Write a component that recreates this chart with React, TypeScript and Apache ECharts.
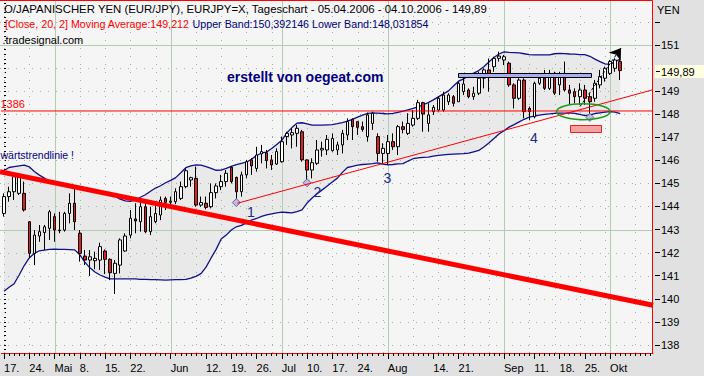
import React, { useEffect, useRef } from 'react';
import * as echarts from 'echarts';

const FONT = '"Liberation Sans", Arial, sans-serif';
const NAVY = '#10108a';

// ---- candle data (EUR/JPY daily, from 17.04.2006) ----
const opens = [
  143.70, 144.43, 144.64, 144.57, 144.57, 143.34, 141.97, 142.72, 142.87, 143.05,
  143.56, 142.98, 142.98, 143.70, 144.14, 142.84, 141.85, 141.68, 141.65, 141.68,
  142.07, 141.71, 141.10, 141.46, 142.07, 142.76, 143.46, 143.34, 143.99, 142.91,
  143.34, 143.63, 144.35, 144.18, 144.21, 144.35, 144.86, 145.15, 145.22, 144.06,
  144.14, 143.99, 144.60, 144.86, 145.08, 145.70, 145.26, 144.64, 145.37, 146.02,
  145.65, 146.28, 146.33, 146.02, 145.84, 145.94, 147.03, 147.10, 147.17, 147.24,
  146.02, 145.58, 145.87, 146.45, 146.45, 146.42, 146.45, 146.67, 147.10, 147.78,
  147.68, 147.46, 147.03, 147.60, 147.03, 146.30, 146.30, 146.81, 146.59, 147.46,
  147.17, 147.53, 147.82, 148.50, 147.60, 148.11, 148.18, 148.18, 148.54, 148.76,
  148.54, 148.98, 149.05, 148.76, 148.91, 149.56, 149.92, 150.06, 150.42, 150.35,
  150.21, 149.27, 148.69, 149.48, 148.25, 147.89, 149.34, 149.56, 149.12, 149.77,
  149.27, 149.77, 149.05, 148.98, 148.76, 149.05, 148.76, 148.69, 149.27, 149.56,
  149.77, 149.99, 150.28,
];
const closes = [
  144.43, 144.64, 145.29, 145.29, 143.85, 141.97, 142.76, 142.91, 143.12, 143.77,
  142.98, 142.95, 143.70, 144.14, 143.34, 141.97, 141.68, 141.82, 141.75, 142.26,
  141.71, 141.13, 141.54, 142.55, 142.72, 143.49, 143.37, 143.99, 142.91, 143.56,
  143.70, 144.28, 144.18, 144.23, 144.64, 144.86, 145.55, 145.25, 144.06, 144.17,
  143.96, 144.60, 144.89, 145.08, 145.44, 145.08, 144.64, 145.37, 145.94, 145.76,
  146.23, 146.38, 145.99, 145.80, 146.38, 146.81, 147.17, 147.20, 147.39, 146.02,
  145.58, 145.90, 146.45, 146.52, 146.91, 146.95, 146.67, 147.17, 147.68, 147.46,
  147.43, 147.34, 147.97, 148.04, 146.30, 146.52, 146.81, 146.59, 147.46, 147.34,
  147.60, 147.82, 148.50, 148.01, 147.97, 148.30, 148.69, 148.83, 148.83, 148.47,
  149.34, 149.31, 148.76, 148.91, 149.56, 149.92, 149.77, 150.42, 150.52, 150.49,
  149.27, 148.69, 149.48, 148.11, 148.11, 149.34, 149.56, 149.12, 149.77, 148.91,
  149.70, 149.05, 148.91, 148.76, 149.05, 148.69, 148.54, 149.34, 149.63, 149.99,
  150.28, 150.35, 149.89,
];
const highs = [
  144.57, 144.86, 145.44, 145.44, 145.08, 143.36, 142.98, 143.20, 143.20, 143.85,
  143.70, 143.77, 143.77, 144.57, 144.93, 142.98, 142.11, 142.11, 142.04, 142.43,
  142.14, 141.75, 141.68, 142.62, 142.84, 143.85, 144.14, 144.35, 144.28, 143.99,
  144.06, 144.43, 144.43, 144.43, 144.79, 145.08, 145.65, 145.29, 145.73, 144.43,
  144.43, 145.00, 145.00, 145.37, 145.58, 145.76, 145.30, 145.51, 146.02, 146.09,
  146.59, 146.67, 146.45, 146.23, 146.52, 147.03, 147.24, 147.39, 147.53, 147.32,
  146.04, 146.09, 146.88, 146.81, 147.10, 147.17, 146.81, 147.32, 147.82, 147.82,
  147.68, 147.68, 148.07, 148.11, 147.17, 146.74, 147.10, 147.17, 147.53, 147.68,
  148.04, 148.18, 148.62, 148.54, 148.47, 148.40, 148.76, 148.98, 148.91, 148.83,
  149.41, 149.70, 149.12, 149.19, 149.84, 149.99, 150.42, 150.49, 150.71, 150.57,
  150.28, 149.34, 149.56, 149.56, 148.33, 149.41, 149.77, 149.92, 149.92, 149.84,
  149.84, 150.28, 149.27, 149.12, 149.34, 149.27, 148.91, 149.48, 149.92, 150.06,
  150.35, 150.42, 150.35,
];
const lows = [
  143.56, 144.21, 144.28, 144.50, 143.78, 141.75, 141.46, 142.47, 142.11, 142.55,
  142.47, 142.84, 142.91, 143.27, 142.98, 141.61, 141.46, 140.99, 141.28, 141.25,
  141.07, 140.81, 140.21, 141.10, 142.04, 142.62, 142.84, 142.91, 142.84, 142.76,
  143.27, 143.41, 143.85, 143.92, 144.10, 144.28, 144.79, 144.86, 143.99, 143.99,
  143.88, 143.92, 144.35, 144.71, 144.86, 145.00, 144.17, 144.43, 145.22, 145.37,
  145.51, 145.87, 145.65, 145.58, 145.80, 145.90, 146.67, 146.52, 146.59, 145.94,
  145.03, 145.22, 145.80, 146.16, 146.23, 146.38, 146.23, 146.30, 146.88, 146.88,
  147.10, 147.24, 146.81, 147.32, 145.94, 145.87, 145.80, 146.45, 146.23, 147.17,
  147.10, 147.46, 147.75, 147.24, 147.24, 147.97, 148.11, 148.11, 148.40, 148.33,
  148.54, 148.83, 148.69, 148.62, 148.83, 149.12, 148.98, 149.84, 150.28, 150.13,
  149.19, 148.25, 148.62, 147.82, 147.75, 147.82, 149.27, 149.05, 149.05, 148.83,
  148.83, 148.98, 148.40, 148.47, 148.40, 148.40, 147.86, 148.54, 149.12, 149.41,
  149.70, 149.84, 149.48,
];

// ---- Bollinger bands (Close, 20, 2) ----
const upperBand = [
  145.56, 145.69, 145.73, 145.76, 145.79, 145.72, 145.52, 145.36, 145.23, 145.07,
  145.02, 144.98, 144.94, 144.89, 144.85, 144.80, 144.76, 144.71, 144.67, 144.63,
  144.57, 144.52, 144.45, 144.32, 144.24, 144.22, 144.29, 144.40, 144.51, 144.66,
  144.80, 144.90, 145.03, 145.13, 145.25, 145.46, 145.68, 145.76, 145.80, 145.79,
  145.73, 145.65, 145.57, 145.58, 145.65, 145.74, 145.81, 145.87, 145.92, 146.05,
  146.21, 146.32, 146.36, 146.51, 146.69, 146.87, 147.19, 147.42, 147.61, 147.63,
  147.58, 147.53, 147.53, 147.53, 147.54, 147.55, 147.59, 147.64, 147.70, 147.78,
  147.87, 147.96, 148.04, 148.06, 148.05, 148.03, 148.01, 148.04, 148.08, 148.13,
  148.19, 148.25, 148.32, 148.41, 148.50, 148.62, 148.75, 148.88, 149.01, 149.22,
  149.43, 149.53, 149.67, 149.78, 149.89, 150.06, 150.26, 150.46, 150.61, 150.70,
  150.68, 150.67, 150.66, 150.62, 150.58, 150.57, 150.57, 150.57, 150.57, 150.62,
  150.64, 150.63, 150.61, 150.60, 150.58, 150.58, 150.51, 150.39, 150.28, 150.18,
  150.16, 150.28, 150.39,
];
const lowerBand = [
  140.33, 140.50, 140.65, 141.03, 141.44, 141.77, 141.97, 142.08, 142.11, 142.14,
  142.15, 142.14, 142.14, 142.13, 142.12, 141.91, 141.59, 141.34, 141.16, 141.03,
  140.94, 140.86, 140.86, 140.86, 140.86, 140.86, 140.86, 140.84, 140.84, 140.83,
  140.83, 140.82, 140.81, 140.82, 140.83, 140.83, 140.84, 140.90, 140.97, 141.09,
  141.37, 141.77, 142.14, 142.59, 142.76, 142.98, 143.12, 143.18, 143.29, 143.41,
  143.48, 143.57, 143.64, 143.68, 143.72, 143.76, 143.74, 143.72, 143.78, 143.85,
  144.15, 144.37, 144.55, 144.72, 144.89, 145.06, 145.23, 145.48, 145.69, 145.74,
  145.79, 145.82, 145.84, 145.86, 145.89, 145.84, 145.80, 145.82, 145.85, 145.86,
  145.97, 146.07, 146.11, 146.13, 146.14, 146.18, 146.22, 146.24, 146.26, 146.27,
  146.28, 146.29, 146.31, 146.37, 146.43, 146.58, 146.75, 146.95, 147.14, 147.28,
  147.44, 147.55, 147.67, 147.78, 147.87, 147.92, 147.96, 147.99, 148.01, 148.04,
  148.05, 148.05, 148.06, 148.04, 147.99, 147.94, 147.97, 148.03, 148.06, 148.09,
  148.11, 148.09, 148.03,
];

// ---- axes ----
const yTickLabels = [138, 139, 140, 141, 142, 143, 144, 145, 146, 147, 148, 149, 151];
const yMajorTicks = [138, 139, 140, 141, 142, 143, 144, 145, 146, 147, 148, 149, 150, 151, 152];
const ySolidGrid = [143, 151];
const yDottedGrid = [138, 139, 140, 141, 142, 144, 145, 146, 147, 148, 149, 150, 152];
const xLabelIdx = [0, 5, 10, 15, 20, 25, 33, 40, 45, 50, 55, 60, 65, 70, 76, 85, 90, 99, 105, 110, 115, 120];
const xLabelText = ['17.', '24.', 'Mai', '8.', '15.', '22.', 'Jun', '12.', '19.', '26.', 'Jul', '10.', '17.', '24.', 'Aug', '14.', '21.', 'Sep', '11.', '18.', '25.', 'Okt'];
const monthStartIdx = [10, 33, 55, 76, 99, 120];
const weekGridIdx = [0, 5, 15, 20, 25, 30, 38, 43, 48, 53, 60, 65, 70, 75, 81, 86, 91, 96, 104, 109, 114, 119, 125];

// ---- annotations (x = trading-day index, y = price) ----
const trendDown = [[-0.8, 145.51], [128.5, 139.72]];
const trendUp = [[46.2, 144.14], [128.5, 149.06]];
const supportLine = [[-0.8, 148.14], [128.5, 148.14]];
const arrowFrom = [114.05, 148.33];
const arrowTo = [122.17, 150.87];
const resistanceZone = [89.96, 149.80, 116.2, 149.61];
const targetZone = [112.1, 147.53, 118.15, 147.24];
const ellipseCenter = [114.7, 148.11];
const pivotIdx = [46, 60, 116];
const pointNames = ['1', '2', '3', '4'];
const pointLabelPos = [[48.9, 143.76], [62.03, 144.64], [75.9, 145.22], [104.9, 146.96]];
const lastPrice = 149.89;

const N_CAT = 129;
const Y_MIN = 137.65;
const Y_MAX = 152.95;

function makeDates(): string[] {
  const out: string[] = [];
  const d = new Date(Date.UTC(2006, 3, 17));
  while (out.length < N_CAT) {
    const wd = d.getUTCDay();
    if (wd !== 0 && wd !== 6) out.push(d.toISOString().slice(0, 10));
    d.setUTCDate(d.getUTCDate() + 1);
  }
  return out;
}

function buildOption() {
  const dates = makeDates();
  const labelMap = new Map<number, string>();
  xLabelIdx.forEach((i, k) => labelMap.set(i, xLabelText[k]));
  const minorTicks: number[] = [];
  for (let v = 137.8; v <= 152.81; v += 0.2) minorTicks.push(Math.round(v * 10) / 10);
  const ohlc = opens.map((o, i) => [o, closes[i], lows[i], highs[i]]);
  const bandDiff = upperBand.map((u, i) => Math.round((u - lowerBand[i]) * 1000) / 1000);
  const GRID_SOLID = '#b3ccb3';
  const GRID_DOT = '#98bb98';

  return {
    animation: false,
    grid: { left: 1.5, top: 0, width: 651.5, height: 353, containLabel: false, show: false },
    xAxis: [
      {
        type: 'category', data: dates, boundaryGap: true, position: 'bottom',
        axisLine: { show: true, lineStyle: { color: '#ff0000', width: 1 } },
        axisTick: { show: true, interval: 0, alignWithLabel: true, length: 3, lineStyle: { color: '#000' } },
        axisLabel: { show: false }, splitLine: { show: false },
      },
      {
        type: 'category', data: dates, boundaryGap: true, position: 'bottom',
        axisLine: { show: false },
        axisTick: { show: true, interval: (i: number) => labelMap.has(i), alignWithLabel: true, length: 6, lineStyle: { color: '#000' } },
        axisLabel: {
          show: true, interval: (i: number) => labelMap.has(i),
          formatter: (_v: string, i: number) => labelMap.get(i) ?? '',
          align: 'left', color: '#000', fontSize: 11, fontFamily: FONT, margin: 9,
        },
        splitLine: { show: false },
      },
      { type: 'value', min: -0.5, max: N_CAT - 0.5, show: false },
    ],
    yAxis: [
      {
        type: 'value', min: Y_MIN, max: Y_MAX, position: 'right', offset: 2,
        axisLine: { show: false },
        axisTick: { show: true, customValues: minorTicks, length: 2, lineStyle: { color: '#000' } },
        axisLabel: { show: false }, splitLine: { show: false },
      },
      {
        type: 'value', min: Y_MIN, max: Y_MAX, position: 'right', offset: 2,
        axisLine: { show: false },
        axisTick: { show: true, customValues: yMajorTicks, length: 5, lineStyle: { color: '#000' } },
        axisLabel: {
          show: true, customValues: yTickLabels, color: '#000', fontSize: 11, fontFamily: FONT, margin: 6,
          formatter: (v: number) => String(v),
        },
        splitLine: { show: false },
      },
    ],
    series: [
      {
        type: 'line', name: 'Lower Band', xAxisIndex: 0, yAxisIndex: 0, data: lowerBand, stack: 'bb',
        symbol: 'none', lineStyle: { color: NAVY, width: 1.3 }, z: 3, silent: true,
      },
      {
        type: 'line', name: 'Band', xAxisIndex: 0, yAxisIndex: 0, data: bandDiff, stack: 'bb',
        symbol: 'none', lineStyle: { width: 0, opacity: 0 }, areaStyle: { color: '#e9e9e9', opacity: 1 }, z: 1, silent: true,
      },
      {
        type: 'line', name: 'Upper Band', xAxisIndex: 0, yAxisIndex: 0, data: upperBand,
        symbol: 'none', lineStyle: { color: NAVY, width: 1.3 }, z: 3, silent: true,
      },
      {
        type: 'custom', name: 'hGrid', xAxisIndex: 2, yAxisIndex: 0, z: 2, silent: true,
        data: [...yDottedGrid.map((v) => [0, v, 0]), ...ySolidGrid.map((v) => [0, v, 1])],
        renderItem: (params: any, api: any) => {
          const y = Math.round(api.coord([0, api.value(1)])[1]) + 0.5;
          const cs = params.coordSys;
          const solid = api.value(2) === 1;
          return {
            type: 'line', shape: { x1: 0, y1: y, x2: cs.x + cs.width, y2: y },
            style: solid ? { stroke: GRID_SOLID, lineWidth: 1 } : { stroke: GRID_DOT, lineWidth: 1, lineDash: [1, 7] },
          };
        },
      },
      {
        type: 'custom', name: 'vGrid', xAxisIndex: 2, yAxisIndex: 0, z: 2, silent: true,
        data: [...weekGridIdx.map((i) => [i, 145, 0]), ...monthStartIdx.map((i) => [i, 145, 1])],
        renderItem: (params: any, api: any) => {
          const x = Math.round(api.coord([api.value(0), 145])[0]) + 0.5;
          const cs = params.coordSys;
          const solid = api.value(2) === 1;
          return {
            type: 'line', shape: { x1: x, y1: cs.y, x2: x, y2: cs.y + cs.height },
            style: solid ? { stroke: GRID_SOLID, lineWidth: 1 } : { stroke: GRID_DOT, lineWidth: 1, lineDash: [1, 7] },
          };
        },
      },
      {
        type: 'candlestick', name: 'EUR/JPY', xAxisIndex: 0, yAxisIndex: 0, data: ohlc, barWidth: 3, z: 4,
        itemStyle: { color: '#ffffff', color0: '#e02020', borderColor: '#000000', borderColor0: '#000000', borderWidth: 1 },
        markPoint: {
          silent: true, symbol: 'diamond', symbolSize: 8, label: { show: false },
          itemStyle: { color: '#c6b6ee', borderColor: '#66668a', borderWidth: 1 },
          data: pivotIdx.map((i) => ({ coord: [i, lows[i]] })),
        },
      },
      {
        type: 'line', name: 'Abwärtstrendlinie', xAxisIndex: 2, yAxisIndex: 0, data: trendDown, clip: false,
        symbol: 'none', lineStyle: { color: '#ff0000', width: 5 }, z: 5, silent: true,
      },
      {
        type: 'line', name: 'Aufwärtstrendlinie', xAxisIndex: 2, yAxisIndex: 0, data: trendUp, clip: false,
        symbol: 'none', lineStyle: { color: '#ff0000', width: 1 }, z: 5, silent: true,
        markLine: {
          silent: true, symbol: ['none', 'arrow'], symbolSize: 11, label: { show: false },
          lineStyle: { color: '#000', width: 1, type: [3, 2] },
          data: [[{ coord: arrowFrom }, { coord: arrowTo }]],
        },
      },
      {
        type: 'line', name: 'Unterstützung', xAxisIndex: 2, yAxisIndex: 0, data: supportLine, clip: false,
        symbol: 'none', lineStyle: { color: '#ff0000', width: 1 }, z: 5, silent: true,
      },
      {
        type: 'custom', name: 'zones', xAxisIndex: 2, yAxisIndex: 0, z: 6, silent: true,
        data: [[...resistanceZone, 0], [...targetZone, 1]],
        renderItem: (_params: any, api: any) => {
          const p1 = api.coord([api.value(0), api.value(1)]);
          const p2 = api.coord([api.value(2), api.value(3)]);
          const k = api.value(4);
          return {
            type: 'rect',
            shape: { x: Math.round(p1[0]) + 0.5, y: Math.round(p1[1]) + 0.5, width: Math.round(p2[0] - p1[0]), height: Math.round(p2[1] - p1[1]) },
            style: k === 0 ? { fill: '#a9aef2', stroke: '#000', lineWidth: 1 } : { fill: '#f4a3a3', stroke: '#e02222', lineWidth: 1 },
          };
        },
      },
      {
        type: 'custom', name: 'pointLabels', xAxisIndex: 2, yAxisIndex: 0, z: 6, silent: true,
        data: pointLabelPos,
        renderItem: (params: any, api: any) => {
          const p = api.coord([api.value(0), api.value(1)]);
          return {
            type: 'text', x: p[0], y: p[1],
            style: { text: pointNames[params.dataIndex], fill: '#1b2b8b', font: `14px ${FONT}`, align: 'center', verticalAlign: 'middle' },
          };
        },
      },
    ],
  };
}

function txt(x: number, y: number, text: string, fill: string, font: string, extra: any = {}) {
  return {
    type: 'text', x, y, z: 100, silent: true,
    style: { text, fill, font, align: 'left', verticalAlign: 'middle', ...extra },
  };
}

function buildGraphics(py: number, ec: number[]) {
  const f11 = `11px ${FONT}`;
  return [
    { type: 'rect', z: -10, silent: true, shape: { x: 0, y: 0, width: 653, height: 353 }, style: { fill: '#f5f5f5' } },
    {
      type: 'polyline', z: 100, silent: true,
      shape: { points: [[0, 0.5], [652.5, 0.5], [652.5, 353.5]] },
      style: { stroke: '#ff0000', lineWidth: 1, fill: 'none' },
    },
    txt(4, 8.5, 'O/JAPANISCHER YEN (EUR/JPY), EURJPY=X, Tageschart - 05.04.2006 - 04.10.2006 - 149,89', '#000', `11.4px ${FONT}`),
    {
      type: 'text', x: 5, y: 24, z: 100, silent: true,
      style: {
        text: '{r|[Close, 20, 2] Moving Average:149,212} {b|Upper Band:150,392146 Lower Band:148,031854}',
        font: `10.7px ${FONT}`, fill: '#000', align: 'left', verticalAlign: 'middle',
        rich: {
          r: { fill: '#ff0000', fontSize: 10.7, fontFamily: FONT },
          b: { fill: '#000080', fontSize: 10.7, fontFamily: FONT },
        },
      },
    },
    txt(2.5, 40, '.tradesignal.com', '#000', f11),
    txt(657, 9.5, 'YEN', '#000', f11),
    txt(227, 77, 'erstellt von oegeat.com', '#000080', `bold 14px ${FONT}`),
    txt(0.5, 155, 'wärtstrendlinie !', '#000080', `10.5px ${FONT}`),
    txt(0.5, 104, '1386', '#ff0000', f11),
    {
      type: 'ellipse', z: 60, silent: true,
      shape: { cx: ec[0], cy: ec[1], rx: 26.7, ry: 8 },
      style: { fill: 'none', stroke: '#1f9a1f', lineWidth: 1.5 },
    },
    { type: 'rect', z: 90, silent: true, shape: { x: 655, y: Math.round(py) - 6, width: 49, height: 13 }, style: { fill: '#ffffe1' } },
    { type: 'line', z: 100, silent: true, shape: { x1: 656, y1: Math.round(py) + 0.5, x2: 660, y2: Math.round(py) + 0.5 }, style: { stroke: '#000', lineWidth: 1 } },
    txt(661, Math.round(py) + 0.5, '149,89', '#000', f11),
  ];
}

export default function App() {
  const ref = useRef<HTMLDivElement>(null);
  useEffect(() => {
    if (!ref.current) return;
    const chart = echarts.init(ref.current, null, { renderer: 'svg' });
    chart.setOption(buildOption() as any);
    const py = chart.convertToPixel({ yAxisIndex: 0 }, lastPrice) as unknown as number;
    const ec = chart.convertToPixel({ seriesIndex: 6 }, ellipseCenter) as unknown as number[];
    chart.setOption({ graphic: buildGraphics(py, ec) } as any);
    return () => chart.dispose();
  }, []);
  return (
    <div
      ref={ref}
      style={{ position: 'fixed', left: 0, top: 0, width: 704, height: 376, background: '#e1e1e1' }}
    />
  );
}
